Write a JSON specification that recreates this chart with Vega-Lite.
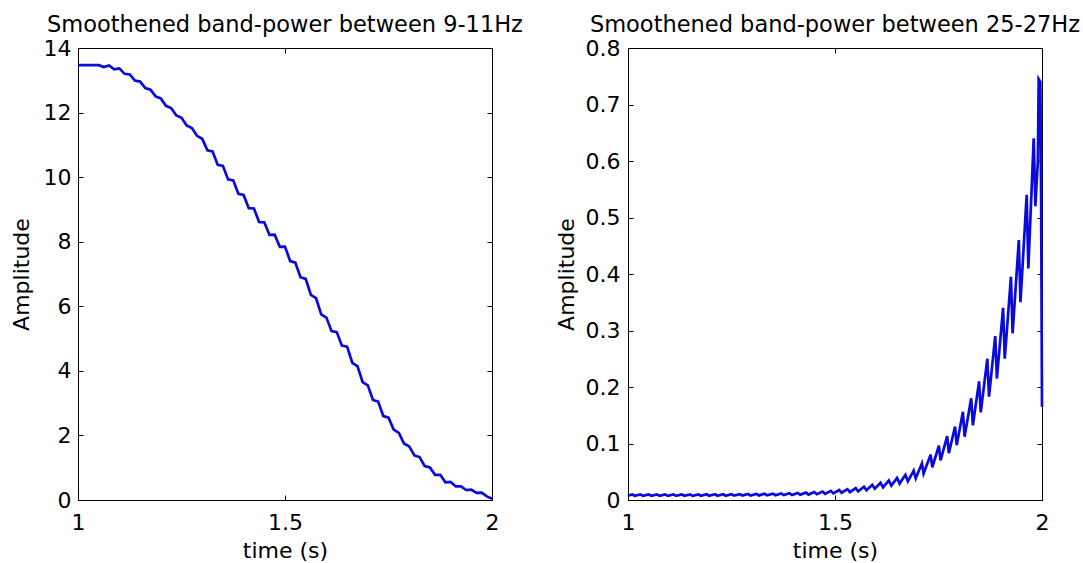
{
  "$schema": "https://vega.github.io/schema/vega-lite/v6.json",
  "padding": {"left": 9, "top": 13, "right": 5, "bottom": 5},
  "bounds": "flush",
  "spacing": 136,
  "background": "white",
  "config": {
    "view": {"stroke": "black", "strokeWidth": 1},
    "font": "DejaVu Sans",
    "axis": {
      "domainColor": "black", "tickColor": "black", "labelColor": "black", "titleColor": "black",
      "labelFont": "DejaVu Sans", "labelFontSize": 22, "titleFont": "DejaVu Sans", "titleFontSize": 22,
      "titleFontWeight": "normal", "grid": false, "tickSize": -5, "labelFlush": false, "labelOverlap": false,
      "domainWidth": 1, "tickWidth": 1
    },
    "title": {"font": "DejaVu Sans", "fontSize": 22.5, "fontWeight": "normal", "color": "black"}
  },
  "datasets": {
    "alpha": [
      {"t": 1.0, "v": 13.47}, {"t": 1.0125, "v": 13.47}, {"t": 1.025, "v": 13.47}, {"t": 1.0375, "v": 13.47},
      {"t": 1.05, "v": 13.47}, {"t": 1.0625, "v": 13.41}, {"t": 1.075, "v": 13.46}, {"t": 1.0875, "v": 13.34},
      {"t": 1.1, "v": 13.37}, {"t": 1.1125, "v": 13.20}, {"t": 1.125, "v": 13.18}, {"t": 1.1375, "v": 12.99},
      {"t": 1.15, "v": 12.96}, {"t": 1.1625, "v": 12.76}, {"t": 1.175, "v": 12.71}, {"t": 1.1875, "v": 12.50},
      {"t": 1.2, "v": 12.44}, {"t": 1.2125, "v": 12.21}, {"t": 1.225, "v": 12.14}, {"t": 1.2375, "v": 11.91},
      {"t": 1.25, "v": 11.84}, {"t": 1.2625, "v": 11.60}, {"t": 1.275, "v": 11.52}, {"t": 1.2875, "v": 11.28},
      {"t": 1.3, "v": 11.19}, {"t": 1.3125, "v": 10.83}, {"t": 1.325, "v": 10.80}, {"t": 1.3375, "v": 10.38},
      {"t": 1.35, "v": 10.35}, {"t": 1.3625, "v": 9.93}, {"t": 1.375, "v": 9.90}, {"t": 1.3875, "v": 9.48},
      {"t": 1.4, "v": 9.45}, {"t": 1.4125, "v": 9.04}, {"t": 1.425, "v": 9.03}, {"t": 1.4375, "v": 8.61},
      {"t": 1.45, "v": 8.60}, {"t": 1.4625, "v": 8.21}, {"t": 1.475, "v": 8.22}, {"t": 1.4875, "v": 7.84},
      {"t": 1.5, "v": 7.85}, {"t": 1.5125, "v": 7.40}, {"t": 1.525, "v": 7.35}, {"t": 1.5375, "v": 6.90},
      {"t": 1.55, "v": 6.85}, {"t": 1.5625, "v": 6.35}, {"t": 1.575, "v": 6.25}, {"t": 1.5875, "v": 5.75},
      {"t": 1.6, "v": 5.65}, {"t": 1.6125, "v": 5.23}, {"t": 1.625, "v": 5.20}, {"t": 1.6375, "v": 4.78},
      {"t": 1.65, "v": 4.75}, {"t": 1.6625, "v": 4.25}, {"t": 1.675, "v": 4.15}, {"t": 1.6875, "v": 3.65},
      {"t": 1.7, "v": 3.55}, {"t": 1.7125, "v": 3.10}, {"t": 1.725, "v": 3.05}, {"t": 1.7375, "v": 2.60},
      {"t": 1.75, "v": 2.55}, {"t": 1.7625, "v": 2.18}, {"t": 1.775, "v": 2.08}, {"t": 1.7875, "v": 1.75},
      {"t": 1.8, "v": 1.66}, {"t": 1.8125, "v": 1.38}, {"t": 1.825, "v": 1.33}, {"t": 1.8375, "v": 1.05},
      {"t": 1.85, "v": 1.01}, {"t": 1.8625, "v": 0.78}, {"t": 1.875, "v": 0.78}, {"t": 1.8875, "v": 0.55},
      {"t": 1.9, "v": 0.56}, {"t": 1.9125, "v": 0.42}, {"t": 1.925, "v": 0.42}, {"t": 1.9375, "v": 0.31},
      {"t": 1.95, "v": 0.32}, {"t": 1.9625, "v": 0.22}, {"t": 1.975, "v": 0.23}, {"t": 1.9875, "v": 0.11},
      {"t": 2.0, "v": 0.04}
    ],
    "beta": [
      {"t": 1.0, "v": 0.0076},
      {"t": 1.010, "v": 0.0100}, {"t": 1.016, "v": 0.0075},
      {"t": 1.030, "v": 0.0099}, {"t": 1.036, "v": 0.0074},
      {"t": 1.050, "v": 0.0100}, {"t": 1.056, "v": 0.0075},
      {"t": 1.070, "v": 0.0099}, {"t": 1.076, "v": 0.0074},
      {"t": 1.090, "v": 0.0100}, {"t": 1.096, "v": 0.0074},
      {"t": 1.110, "v": 0.0099}, {"t": 1.116, "v": 0.0074},
      {"t": 1.130, "v": 0.0100}, {"t": 1.136, "v": 0.0075},
      {"t": 1.150, "v": 0.0100}, {"t": 1.156, "v": 0.0074},
      {"t": 1.170, "v": 0.0100}, {"t": 1.176, "v": 0.0075},
      {"t": 1.190, "v": 0.0101}, {"t": 1.196, "v": 0.0075},
      {"t": 1.210, "v": 0.0101}, {"t": 1.216, "v": 0.0076},
      {"t": 1.230, "v": 0.0102}, {"t": 1.236, "v": 0.0076},
      {"t": 1.250, "v": 0.0103}, {"t": 1.256, "v": 0.0077},
      {"t": 1.270, "v": 0.0104}, {"t": 1.276, "v": 0.0078},
      {"t": 1.290, "v": 0.0106}, {"t": 1.296, "v": 0.0079},
      {"t": 1.310, "v": 0.0108}, {"t": 1.316, "v": 0.0081},
      {"t": 1.330, "v": 0.0110}, {"t": 1.336, "v": 0.0083},
      {"t": 1.350, "v": 0.0113}, {"t": 1.356, "v": 0.0085},
      {"t": 1.370, "v": 0.0116}, {"t": 1.376, "v": 0.0087},
      {"t": 1.390, "v": 0.0120}, {"t": 1.396, "v": 0.0089},
      {"t": 1.410, "v": 0.0125}, {"t": 1.416, "v": 0.0092},
      {"t": 1.430, "v": 0.0131}, {"t": 1.436, "v": 0.0096},
      {"t": 1.450, "v": 0.0140}, {"t": 1.456, "v": 0.0102},
      {"t": 1.470, "v": 0.0150}, {"t": 1.476, "v": 0.0109},
      {"t": 1.490, "v": 0.0162}, {"t": 1.496, "v": 0.0118},
      {"t": 1.510, "v": 0.0176}, {"t": 1.516, "v": 0.0128},
      {"t": 1.530, "v": 0.0192}, {"t": 1.536, "v": 0.0140},
      {"t": 1.550, "v": 0.0210}, {"t": 1.556, "v": 0.0153},
      {"t": 1.570, "v": 0.0235}, {"t": 1.576, "v": 0.0172},
      {"t": 1.590, "v": 0.0270}, {"t": 1.596, "v": 0.0200},
      {"t": 1.610, "v": 0.0305}, {"t": 1.616, "v": 0.0225},
      {"t": 1.630, "v": 0.0345}, {"t": 1.636, "v": 0.0255},
      {"t": 1.650, "v": 0.0390}, {"t": 1.656, "v": 0.0290},
      {"t": 1.670, "v": 0.0445}, {"t": 1.676, "v": 0.0330},
      {"t": 1.690, "v": 0.0520}, {"t": 1.695, "v": 0.0385},
      {"t": 1.710, "v": 0.0650}, {"t": 1.714, "v": 0.0470},
      {"t": 1.731, "v": 0.0800}, {"t": 1.735, "v": 0.0580},
      {"t": 1.751, "v": 0.0960}, {"t": 1.755, "v": 0.0700},
      {"t": 1.771, "v": 0.1130}, {"t": 1.775, "v": 0.0830},
      {"t": 1.790, "v": 0.1300}, {"t": 1.794, "v": 0.0970},
      {"t": 1.809, "v": 0.1560}, {"t": 1.813, "v": 0.1120},
      {"t": 1.829, "v": 0.1800}, {"t": 1.833, "v": 0.1320},
      {"t": 1.848, "v": 0.2100}, {"t": 1.852, "v": 0.1550},
      {"t": 1.868, "v": 0.2500}, {"t": 1.872, "v": 0.1830},
      {"t": 1.887, "v": 0.2900}, {"t": 1.891, "v": 0.2150},
      {"t": 1.906, "v": 0.3400}, {"t": 1.910, "v": 0.2500},
      {"t": 1.925, "v": 0.3950}, {"t": 1.929, "v": 0.2950},
      {"t": 1.944, "v": 0.4600}, {"t": 1.948, "v": 0.3500},
      {"t": 1.963, "v": 0.5400}, {"t": 1.967, "v": 0.4100},
      {"t": 1.980, "v": 0.6400}, {"t": 1.984, "v": 0.5200},
      {"t": 1.990, "v": 0.6000}, {"t": 1.992, "v": 0.7450},
      {"t": 1.996, "v": 0.7400}, {"t": 1.998, "v": 0.5200},
      {"t": 2.000, "v": 0.1650}
    ]
  },
  "hconcat": [
    {
      "width": 414, "height": 452,
      "data": {"name": "alpha"},
      "title": {"text": "Smoothened band-power between 9-11Hz", "anchor": "middle", "frame": "group", "baseline": "bottom", "offset": -22},
      "layer": [
        {
          "mark": {"type": "line", "color": "#0a0adc", "strokeWidth": 2.7},
          "encoding": {
            "x": {"field": "t", "type": "quantitative", "scale": {"domain": [1, 2], "nice": false, "zero": false},
                  "axis": {"values": [1, 1.5, 2], "format": "~g", "labelPadding": 17, "title": "time (s)", "titlePadding": 7}},
            "y": {"field": "v", "type": "quantitative", "scale": {"domain": [0, 14], "nice": false, "zero": false},
                  "axis": {"values": [0, 2, 4, 6, 8, 10, 12, 14], "format": "~g", "labelPadding": 12, "title": "Amplitude",
                           "titleX": -57, "titleY": 226, "titleAngle": -90, "titleBaseline": "middle", "titleAlign": "center"}}
          }
        },
        {
          "mark": {"type": "line", "strokeOpacity": 0},
          "encoding": {
            "x": {"field": "t", "type": "quantitative", "axis": {"orient": "top", "values": [1, 1.5, 2], "labels": false, "title": null, "minExtent": 0, "maxExtent": 0, "labelPadding": 0}},
            "y": {"field": "v", "type": "quantitative", "axis": {"orient": "right", "values": [0, 2, 4, 6, 8, 10, 12, 14], "labels": false, "title": null, "minExtent": 0, "maxExtent": 0, "labelPadding": 0}}
          }
        }
      ],
      "resolve": {"axis": {"x": "independent", "y": "independent"}}
    },
    {
      "width": 414, "height": 452,
      "data": {"name": "beta"},
      "title": {"text": "Smoothened band-power between 25-27Hz", "anchor": "middle", "frame": "group", "baseline": "bottom", "offset": -22},
      "layer": [
        {
          "mark": {"type": "line", "color": "#0a0adc", "strokeWidth": 2.7},
          "encoding": {
            "x": {"field": "t", "type": "quantitative", "scale": {"domain": [1, 2], "nice": false, "zero": false},
                  "axis": {"values": [1, 1.5, 2], "format": "~g", "labelPadding": 17, "title": "time (s)", "titlePadding": 7}},
            "y": {"field": "v", "type": "quantitative", "scale": {"domain": [0, 0.8], "nice": false, "zero": false},
                  "axis": {"values": [0, 0.1, 0.2, 0.3, 0.4, 0.5, 0.6, 0.7, 0.8], "format": "~g", "labelPadding": 13, "title": "Amplitude",
                           "titleX": -62, "titleY": 226, "titleAngle": -90, "titleBaseline": "middle", "titleAlign": "center"}}
          }
        },
        {
          "mark": {"type": "line", "strokeOpacity": 0},
          "encoding": {
            "x": {"field": "t", "type": "quantitative", "axis": {"orient": "top", "values": [1, 1.5, 2], "labels": false, "title": null, "minExtent": 0, "maxExtent": 0, "labelPadding": 0}},
            "y": {"field": "v", "type": "quantitative", "axis": {"orient": "right", "values": [0, 0.1, 0.2, 0.3, 0.4, 0.5, 0.6, 0.7, 0.8], "labels": false, "title": null, "minExtent": 0, "maxExtent": 0, "labelPadding": 0}}
          }
        }
      ],
      "resolve": {"axis": {"x": "independent", "y": "independent"}}
    }
  ]
}
